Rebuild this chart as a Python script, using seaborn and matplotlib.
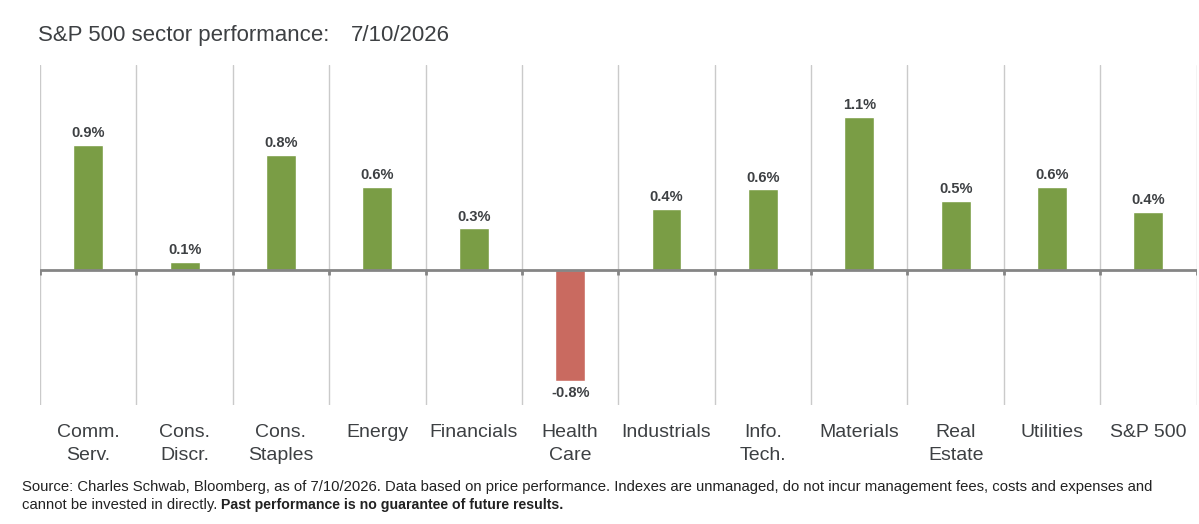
"""
S&P 500 sector performance bar chart, one day's price change per sector.
"""

import numpy as np
import pandas as pd
import seaborn as sns
import matplotlib.pyplot as plt

sectors = ['Comm.\nServ.', 'Cons.\nDiscr.', 'Cons.\nStaples', 'Energy', 'Financials',
           'Health\nCare', 'Industrials', 'Info.\nTech.', 'Materials', 'Real\nEstate',
           'Utilities', 'S&P 500']
returns = [0.90, 0.06, 0.83, 0.60, 0.30, -0.80, 0.44, 0.58, 1.10, 0.50, 0.60, 0.42]
labels = ['0.9%', '0.1%', '0.8%', '0.6%', '0.3%', '-0.8%', '0.4%', '0.6%', '1.1%',
          '0.5%', '0.6%', '0.4%']

GREEN = '#7a9d45'
RED = '#c96a60'
TEXT = '#3d4043'

data = pd.DataFrame({'sector': sectors, 'ret': returns, 'label': labels})
data['sign'] = np.where(data['ret'] >= 0, 'up', 'down')

sns.set_style('white')
plt.rcParams['font.family'] = ['Liberation Sans', 'DejaVu Sans']

fig = plt.figure(figsize=(11.99, 5.24), dpi=100)
ax = fig.add_axes([0.0334, 0.227, 0.9646, 0.649])

sns.barplot(data=data, x='sector', y='ret', hue='sign', palette={'up': GREEN, 'down': RED},
            width=0.31, dodge=False, legend=False, saturation=1, ax=ax)

n = len(sectors)
bounds = np.arange(n + 1) - 0.5
ax.set_xlim(-0.5, n - 0.5)
ax.set_ylim(-0.97, 1.475)

# separators between sectors
ax.set_xticks(bounds, minor=True)
ax.grid(which='minor', axis='x', color='#cacaca', lw=1)
ax.grid(which='major', visible=False)
ax.axhline(0, color='#858585', lw=2, zorder=3)
ax.vlines(bounds, -0.035, 0, color='#858585', lw=2, zorder=3)

for s in ax.spines.values():
    s.set_visible(False)
ax.set_yticks([])
ax.set_xlabel('')
ax.set_ylabel('')
ax.tick_params(axis='x', which='both', length=0, pad=14, labelsize=14, labelcolor=TEXT)
for t in ax.get_xticklabels():
    t.set_linespacing(1.4)

for i, row in data.iterrows():
    off = 0.035 if row['ret'] >= 0 else -0.035
    ax.text(i, row['ret'] + off, row['label'], ha='center',
            va='bottom' if row['ret'] >= 0 else 'top',
            fontsize=10.5, fontweight='bold', color=TEXT)

fig.text(0.032, 0.933, 'S&P 500 sector performance:', fontsize=16, color=TEXT, va='center')
fig.text(0.293, 0.933, '7/10/2026', fontsize=16, color=TEXT, va='center')

# footnote
fig.text(0.018, 0.071, 'Source: Charles Schwab, Bloomberg, as of 7/10/2026. Data based on price '
         'performance. Indexes are unmanaged, do not incur management fees, costs and expenses and',
         fontsize=10.7, color='#222222', va='center')
note = fig.text(0.018, 0.036, 'cannot be invested in directly.', fontsize=10.7, color='#222222',
                va='center')
ax.annotate(' Past performance is no guarantee of future results.', xy=(1, 0.5), xycoords=note,
            va='center', ha='left', fontsize=10.2, color='#222222', fontweight='bold',
            annotation_clip=False)

plt.savefig('out.png', dpi=100)
